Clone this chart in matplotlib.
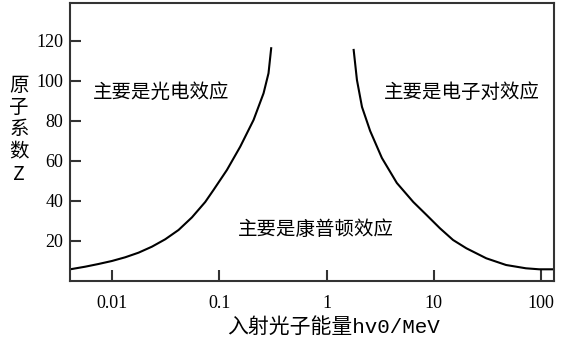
import matplotlib
matplotlib.use("Agg")
import matplotlib.pyplot as plt

plt.rcParams['font.family'] = ['Noto Sans CJK SC', 'DejaVu Sans']

# photoelectric / Compton boundary (energy in MeV, Z)
photo_e = [0.00424, 0.00564, 0.0075, 0.01, 0.0133, 0.0177, 0.0236, 0.0314, 0.0418,
           0.0557, 0.0741, 0.0885, 0.118, 0.157, 0.209, 0.259, 0.288, 0.305]
photo_z = [6.0, 7.15, 8.5, 10.0, 11.85, 14.15, 17.15, 20.85, 25.5,
           31.8, 39.5, 45.5, 55.5, 67.15, 80.5, 93.85, 103.85, 116.35]

# Compton / pair production boundary
pair_e = [1.79, 1.92, 2.14, 2.55, 3.28, 4.52, 6.43, 8.55, 11.4,
          15.1, 20.1, 30.8, 47.1, 72.1, 95.7, 140]
pair_z = [115.5, 100.5, 87.0, 75.0, 61.5, 49.0, 39.5, 33.0, 26.35,
          20.5, 16.35, 11.35, 8.0, 6.35, 5.85, 5.85]

xticks = [0.01, 0.1, 1, 10, 100]
xtick_labels = ['0.01', '0.1', '1', '10', '100']
yticks = [20, 40, 60, 80, 100, 120]

regions = ['主要是光电效应', '主要是电子对效应', '主要是康普顿效应']
region_e = [0.0288, 18.1, 0.79]
region_z = [94, 94, 25.5]

fig = plt.figure(figsize=(5.76, 3.52), dpi=100)
ax = fig.add_axes([0.1215, 0.2017, 0.8405, 0.79])

ax.plot(photo_e, photo_z, color='black', lw=1.5)
ax.plot(pair_e, pair_z, color='black', lw=1.5)

ax.set_xscale('log')
ax.set_xlim(0.00407, 132)
ax.set_ylim(0, 139)

ax.set_xticks(xticks)
ax.set_xticklabels(xtick_labels)
ax.set_yticks(yticks)
ax.minorticks_off()
ax.tick_params(direction='in', length=8, width=1.5, color='#333333', labelsize=13)
ax.tick_params(axis='x', pad=10)
ax.tick_params(axis='y', pad=5)
for lab in ax.get_xticklabels() + ax.get_yticklabels():
    lab.set_family('Liberation Serif')

for s in ax.spines.values():
    s.set_color('#333333')
    s.set_linewidth(1.5)

for txt, e, z in zip(regions, region_e, region_z):
    ax.text(e, z, txt, fontsize=14, ha='center', va='center')

fig.text(0.579, 0.071, '入射光子能量hv0/MeV', fontsize=15, ha='center', va='center',
         family=['Liberation Mono', 'Noto Sans CJK SC'])
fig.text(0.033, 0.631, '\n'.join('原子系数') + '\nZ', fontsize=14,
         ha='center', va='center', linespacing=1.08,
         family=['Noto Sans CJK SC', 'DejaVu Sans'])

fig.savefig('out.png', dpi=100)
